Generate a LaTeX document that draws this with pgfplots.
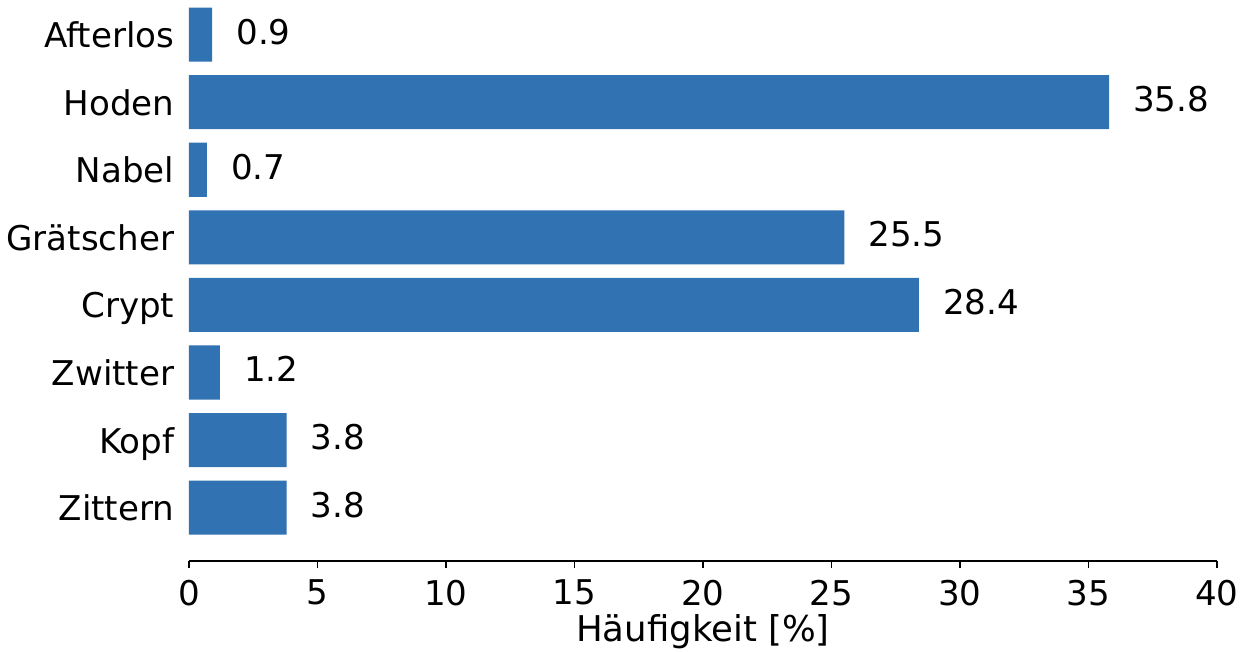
\documentclass[border=0pt]{standalone}
\usepackage{pgfplots}
\pgfplotsset{compat=1.18}
\usepackage{fontspec}
\setmainfont{DejaVu Sans}
\definecolor{barblue}{RGB}{49,114,178}

\begin{document}
\fontsize{9.7}{11.6}\selectfont
\begin{tikzpicture}
    \begin{axis}[
            at={(0,0)}, anchor=south west,
            scale only axis,
            width=102.8mm,
            height=56.14mm,
            xbar,
            bar width=0.8,
            xmin=0, xmax=40,
            ymin=-0.79, ymax=7.518,
            axis lines*=left,
            separate axis lines,
            x axis line style={black, line width=0.5pt},
            y axis line style={draw=none},
            xtick={0,5,...,40},
            tick align=outside,
            xtick style={black, line width=0.5pt},
            major tick length=0.7mm,
            xticklabel style={anchor=north, inner sep=0pt, yshift=-1.1mm},
            ytick={0,...,7},
            yticklabels={Zittern,Kopf,Zwitter,Crypt,Grätscher,Nabel,Hoden,Afterlos},
            ytick style={draw=none},
            yticklabel style={anchor=base east, inner sep=0pt, xshift=-0.7mm, yshift=-1.3mm},
            xlabel={Häufigkeit [\%]},
            xlabel style={at={(axis description cs:0.5,0)}, anchor=base, inner sep=0pt, yshift=-8mm,
                font=\fontsize{10.1}{12}\selectfont},
            /pgf/number format/assume math mode=true,
            nodes near coords,
            nodes near coords style={anchor=base west, inner sep=0pt, xshift=2.35mm, yshift=-0.95mm,
                /pgf/number format/fixed, /pgf/number format/fixed zerofill,
                /pgf/number format/precision=1},
            clip=false
        ]
        \addplot[fill=barblue, draw=none] coordinates {
                (3.8,0) (3.8,1) (1.2,2) (28.4,3) (25.5,4) (0.7,5) (35.8,6) (0.9,7)
            };
    \end{axis}
    \pgfresetboundingbox
    \path (-18.9mm,-9mm) rectangle (105.8mm,56.1mm);
\end{tikzpicture}
\end{document}
